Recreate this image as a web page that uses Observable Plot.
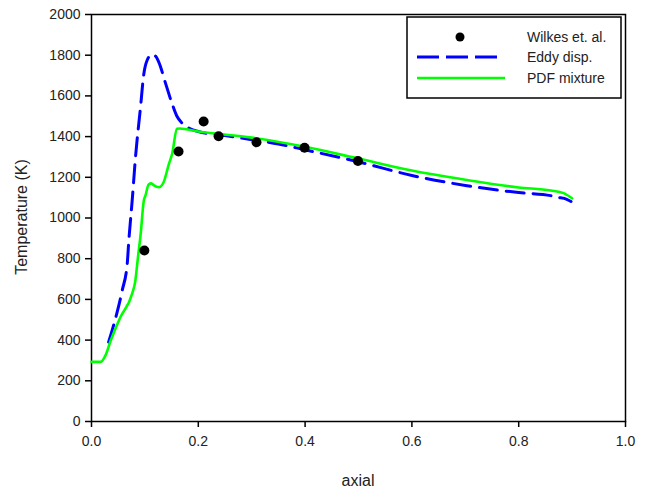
<!DOCTYPE html>
<html><head><meta charset="utf-8">
<script src="https://cdn.jsdelivr.net/npm/d3@7"></script>
<script src="https://cdn.jsdelivr.net/npm/@observablehq/plot@0.6"></script>
<style>
body{margin:0;background:#fff;font-family:"Liberation Sans",Arial,sans-serif;}
#chart{position:relative;width:649px;height:490px;}
</style></head>
<body><div id="chart"></div>
<script>
const wilkesX = [0.099, 0.163, 0.210, 0.238, 0.309, 0.399, 0.499];
const wilkesT = [840, 1327, 1474, 1402, 1372, 1345, 1280];

const eddyX = [0.032, 0.040, 0.048, 0.0575, 0.0669, 0.0699, 0.0762, 0.0824, 0.0918, 0.098, 0.104, 0.113, 0.120, 0.126, 0.139, 0.151, 0.160, 0.170, 0.185, 0.200, 0.250, 0.300, 0.350, 0.400, 0.500, 0.600, 0.700, 0.800, 0.860, 0.872, 0.890, 0.898];
const eddyT = [390, 460, 537, 644, 775, 889, 1086, 1299, 1545, 1708, 1774, 1803, 1795, 1766, 1659, 1561, 1500, 1465, 1438, 1425, 1405, 1385, 1364, 1335, 1276, 1209, 1160, 1125, 1110, 1102, 1092, 1081];

const pdfX = [0, 0.017, 0.026, 0.036, 0.054, 0.076, 0.082, 0.087, 0.092, 0.098, 0.101, 0.107, 0.112, 0.117, 0.126, 0.135, 0.145, 0.151, 0.160, 0.165, 0.200, 0.300, 0.400, 0.500, 0.600, 0.700, 0.800, 0.860, 0.884, 0.900];
const pdfT = [293, 293, 324, 398, 512, 627, 690, 807, 920, 1086, 1110, 1165, 1170, 1160, 1151, 1176, 1266, 1315, 1438, 1440, 1425, 1395, 1350, 1292, 1233, 1188, 1150, 1135, 1122, 1097];

const xTicks = [0, 0.2, 0.4, 0.6, 0.8, 1.0];
const yTicks = [0, 200, 400, 600, 800, 1000, 1200, 1400, 1600, 1800, 2000];
const seriesNames = ["Wilkes et. al.", "Eddy disp.", "PDF mixture"];

const wilkes = wilkesX.map((x, i) => ({x, t: wilkesT[i]}));
const eddy = eddyX.map((x, i) => ({x, t: eddyT[i]}));
const pdf = pdfX.map((x, i) => ({x, t: pdfT[i]}));

const W = 649, H = 490;
const chart = Plot.plot({
  width: W, height: H,
  marginLeft: 91, marginRight: 24, marginTop: 14, marginBottom: 69,
  style: {fontFamily: '"Liberation Sans", Arial, sans-serif', fontSize: "14px", color: "#222", background: "white"},
  x: {domain: [0, 1], label: null},
  y: {domain: [0, 2000], label: null},
  marks: [
    Plot.axisX({ticks: xTicks, tickFormat: d3.format(".1f"), tickSize: 6, tickPadding: 9, stroke: "#000", strokeWidth: 1.5, strokeOpacity: 1, fontSize: 14, label: null}),
    Plot.axisY({ticks: yTicks, tickFormat: d3.format("d"), tickSize: 6, tickPadding: 5, stroke: "#000", strokeWidth: 1.5, strokeOpacity: 1, fontSize: 14, label: null}),
    Plot.frame({stroke: "#000", strokeWidth: 1.5}),
    Plot.line(eddy, {x: "x", y: "t", stroke: "#0000ff", strokeWidth: 3, strokeDasharray: "18,9", curve: "monotone-x"}),
    Plot.line(pdf, {x: "x", y: "t", stroke: "#00ff00", strokeWidth: 2.6, curve: "monotone-x"}),
    Plot.dot(wilkes, {x: "x", y: "t", r: 5, fill: "#000", stroke: "none"})
  ]
});
const holder = document.getElementById("chart");
holder.appendChild(chart);

const svg = d3.select(chart);
// axis titles
svg.append("text").attr("transform", "translate(27,217) rotate(-90)")
  .attr("text-anchor", "middle").attr("font-size", 16).attr("fill", "#222")
  .text("Temperature (K)");
svg.append("text").attr("x", 358).attr("y", 486)
  .attr("text-anchor", "middle").attr("font-size", 16).attr("fill", "#222")
  .text("axial");

// legend
const lg = svg.append("g").attr("font-size", 14).attr("fill", "#222").attr("text-anchor", "start");
lg.append("rect").attr("x", 407).attr("y", 17).attr("width", 214).attr("height", 81)
  .attr("fill", "white").attr("stroke", "#000").attr("stroke-width", 1.5);
const rowsY = [37, 57, 78];
lg.append("circle").attr("cx", 460).attr("cy", rowsY[0]).attr("r", 4.5).attr("fill", "#000");
lg.append("line").attr("x1", 417).attr("x2", 497).attr("y1", rowsY[1]).attr("y2", rowsY[1])
  .attr("stroke", "#0000ff").attr("stroke-width", 3).attr("stroke-dasharray", "22,7");
lg.append("line").attr("x1", 417).attr("x2", 505).attr("y1", rowsY[2]).attr("y2", rowsY[2])
  .attr("stroke", "#00ff00").attr("stroke-width", 2.6);
seriesNames.forEach((n, i) => {
  lg.append("text").attr("x", 527).attr("y", rowsY[i]).attr("dy", "0.35em").text(n);
});
</script></body></html>
